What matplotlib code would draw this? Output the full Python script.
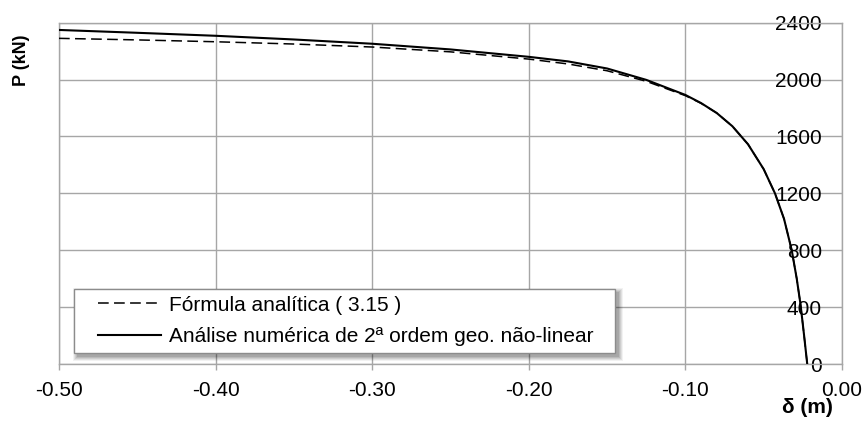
import numpy as np
import matplotlib
matplotlib.use("Agg")
import matplotlib.pyplot as plt
from matplotlib.legend_handler import HandlerLine2D
from matplotlib.patches import Rectangle

plt.rcParams['font.family'] = ['Liberation Sans', 'DejaVu Sans']

# Deflection (m) and axial load (kN)
delta_num = [-0.500, -0.450, -0.400, -0.350, -0.300, -0.250, -0.200, -0.175,
             -0.150, -0.125, -0.100, -0.090, -0.080, -0.070, -0.060, -0.050,
             -0.0428, -0.037, -0.0321, -0.0289, -0.0265, -0.0243, -0.0222]
p_num = [2349, 2329, 2308, 2282, 2252, 2212, 2160, 2128,
         2078, 1998, 1892, 1835, 1765, 1672, 1545, 1370,
         1200, 1020, 800, 600, 420, 210, 0]

delta_ana = [-0.500, -0.450, -0.400, -0.350, -0.300, -0.250, -0.200, -0.175,
             -0.150, -0.125, -0.100, -0.090, -0.080, -0.070, -0.060, -0.050,
             -0.0428, -0.037, -0.0321, -0.0289, -0.0265, -0.0243, -0.0222]
p_ana = [2290, 2279, 2266, 2250, 2229, 2195, 2144, 2110,
         2062, 1988, 1887, 1833, 1765, 1672, 1545, 1370,
         1200, 1020, 800, 600, 420, 210, 0]

x_ticks = [-0.50, -0.40, -0.30, -0.20, -0.10, 0.00]
y_ticks = [0, 400, 800, 1200, 1600, 2000, 2400]

label_ana = "Fórmula analítica ( 3.15 )"
label_num = "Análise numérica de 2ª ordem geo. não-linear"

W, H = 866, 423
fig = plt.figure(figsize=(W / 100, H / 100), dpi=100)
ax = fig.add_axes([59 / W, 1 - 364 / H, (842 - 59) / W, (364 - 22.7) / H])

grid_c = '#a6a6a6'
ax.plot(delta_ana, p_ana, color='black', lw=1.1, ls=(0, (7, 3.5)), zorder=3,
        label=label_ana)
ax.plot(delta_num, p_num, color='black', lw=1.5, zorder=3, label=label_num)

ax.set_xlim(-0.5, 0.0)
ax.set_ylim(0, 2400)
ax.set_xticks(x_ticks)
ax.set_xticklabels([f"{v:.2f}" for v in x_ticks])
ax.set_yticks(y_ticks)
ax.set_yticklabels([str(v) for v in y_ticks])

ax.grid(True, color=grid_c, lw=1.0)
ax.set_axisbelow(True)
for s in ax.spines.values():
    s.set_color(grid_c)
    s.set_linewidth(1.0)

ax.tick_params(axis='x', direction='out', length=4.5, width=1.0, color=grid_c,
               labelsize=15, pad=8)
ax.tick_params(axis='y', left=False, right=False, labelleft=False,
               labelright=True, labelsize=15, length=0, pad=-14.4)
for lbl in ax.get_yticklabels():
    lbl.set_horizontalalignment('right')


class LeadHandler(HandlerLine2D):
    """Line handle drawn with a blank lead-in on its left side."""

    def __init__(self, lead, **kw):
        super().__init__(**kw)
        self.lead = lead

    def get_xdata(self, legend, xdescent, ydescent, width, height, fontsize):
        xd = np.array([-xdescent + self.lead, -xdescent + width])
        return xd, xd


hs, ls = ax.get_legend_handles_labels()
x0, x1 = 74 / W, 615 / W
leg = ax.legend(hs, ls, loc='upper left', mode='expand',
                bbox_to_anchor=(x0, 1 - 289 / H, x1 - x0, 0.001),
                bbox_transform=fig.transFigure, fontsize=15, fancybox=False,
                framealpha=1, edgecolor='#8c8c8c', borderpad=0.34,
                borderaxespad=0, handlelength=3.85, handletextpad=0.385,
                labelspacing=0.6,
                handler_map={h: LeadHandler(12) for h in hs})
leg.get_frame().set_linewidth(1.0)
leg.set_zorder(6)

fig.text(22 / W, 1 - 60 / H, "P (kN)", rotation=90, ha='center', va='center',
         fontsize=13, fontweight='bold')
fig.text(833 / W, 1 - 407 / H, "δ (m)", ha='right', va='center',
         fontsize=15, fontweight='bold')

# soft drop shadow under the legend box
fig.canvas.draw()
bb = leg.get_window_extent()
inv = ax.transAxes.inverted()
for i, a in enumerate([0.05, 0.07, 0.08, 0.09, 0.10]):
    grow = 4 - i
    (ax0, ay0) = inv.transform((bb.x0 + 3 - grow, bb.y0 - 4 - grow))
    (ax1, ay1) = inv.transform((bb.x1 + 4 + grow, bb.y1 - 3 + grow))
    ax.add_patch(Rectangle((ax0, ay0), ax1 - ax0, ay1 - ay0,
                           transform=ax.transAxes, facecolor='black',
                           edgecolor='none', alpha=a, zorder=5))

fig.savefig("out.png", dpi=100)
